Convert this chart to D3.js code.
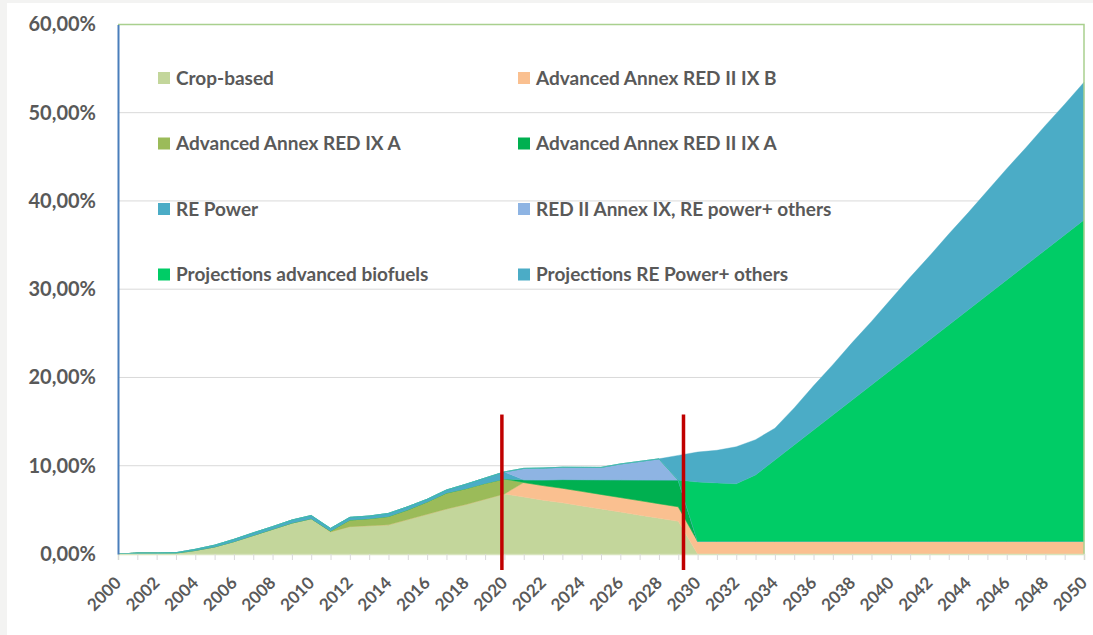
<!DOCTYPE html>
<html lang="en">
<head>
<meta charset="UTF-8" />
<title>Biofuels and RE power share</title>
<script src="https://cdn.jsdelivr.net/npm/d3@7"></script>
<style>
  body { margin: 0; background: #f3f3f2; }
  svg { display: block; }
  text { font-family: Lato, "Open Sans", sans-serif; font-weight: 700; fill: #595959; }
</style>
</head>
<body>
<svg width="1093" height="635"></svg>
<script>
// categories: one point per year
var years = d3.range(2000, 2051);

// series values, share in %
var cropBased = [0, 0.1, 0.1, 0.1, 0.4, 0.8, 1.4, 2.1, 2.8, 3.5, 4.0, 2.5, 3.1, 3.2, 3.3, 3.9, 4.5, 5.1, 5.6, 6.2, 6.8,
  6.45, 6.1, 5.8, 5.45, 5.1, 4.75, 4.4, 4.05, 3.7,
  0, 0, 0, 0, 0, 0, 0, 0, 0, 0, 0, 0, 0, 0, 0, 0, 0, 0, 0, 0, 0];
var annexIIB = [0, 0, 0, 0, 0, 0, 0, 0, 0, 0, 0, 0, 0, 0, 0, 0, 0, 0, 0, 0, 0,
  1.65, 1.65, 1.65, 1.65, 1.65, 1.65, 1.65, 1.65, 1.65,
  1.45, 1.45, 1.45, 1.45, 1.45, 1.45, 1.45, 1.45, 1.45, 1.45, 1.45, 1.45, 1.45, 1.45, 1.45, 1.45, 1.45, 1.45, 1.45, 1.45, 1.45];
var annexIXA = [0, 0, 0, 0, 0, 0, 0, 0, 0, 0, 0, 0.1, 0.75, 0.8, 0.95, 1.1, 1.4, 1.8, 1.8, 1.8, 1.7,
  0, 0, 0, 0, 0, 0, 0, 0, 0,
  0, 0, 0, 0, 0, 0, 0, 0, 0, 0, 0, 0, 0, 0, 0, 0, 0, 0, 0, 0, 0];
var annexIIA = [0, 0, 0, 0, 0, 0, 0, 0, 0, 0, 0, 0, 0, 0, 0, 0, 0, 0, 0, 0, 0,
  0.3, 0.64, 0.98, 1.32, 1.66, 2.0, 2.34, 2.68, 3.02,
  0, 0, 0, 0, 0, 0, 0, 0, 0, 0, 0, 0, 0, 0, 0, 0, 0, 0, 0, 0, 0];
var rePower = [0, 0, 0, 0.05, 0.13, 0.2, 0.26, 0.3, 0.3, 0.35, 0.36, 0.3, 0.3, 0.3, 0.35, 0.36, 0.3, 0.35, 0.5, 0.6, 0.8,
  0, 0, 0, 0, 0, 0, 0, 0, 0,
  0, 0, 0, 0, 0, 0, 0, 0, 0, 0, 0, 0, 0, 0, 0, 0, 0, 0, 0, 0, 0];
var redIIOthers = [0, 0, 0, 0, 0, 0, 0, 0, 0, 0, 0, 0, 0, 0, 0, 0, 0, 0, 0, 0, 0,
  1.3, 1.35, 1.4, 1.4, 1.4, 1.8, 2.1, 2.4, 0,
  0, 0, 0, 0, 0, 0, 0, 0, 0, 0, 0, 0, 0, 0, 0, 0, 0, 0, 0, 0, 0];
var projBiofuels = [0, 0, 0, 0, 0, 0, 0, 0, 0, 0, 0, 0, 0, 0, 0, 0, 0, 0, 0, 0, 0,
  0, 0, 0, 0, 0, 0, 0, 0, 0,
  6.7, 6.6, 6.5, 7.5, 9.2, 10.9, 12.6, 14.3, 16.0, 17.7, 19.4, 21.1, 22.8, 24.5, 26.2, 27.9, 29.6, 31.3, 33.0, 34.7, 36.4];
var projRePower = [0, 0, 0, 0, 0, 0, 0, 0, 0, 0, 0, 0, 0, 0, 0, 0, 0, 0, 0, 0, 0,
  0, 0, 0, 0, 0, 0, 0, 0, 2.8,
  3.4, 3.7, 4.2, 4.0, 3.6, 4.2, 5.0, 5.7, 6.5, 7.2, 8.0, 8.8, 9.5, 10.3, 11.0, 11.8, 12.6, 13.3, 14.1, 14.8, 15.6];

var seriesNames = ["Crop-based", "Advanced Annex RED II IX B", "Advanced Annex RED IX A",
  "Advanced Annex RED II IX A", "RE Power", "RED II Annex IX, RE power+ others",
  "Projections advanced biofuels", "Projections RE Power+ others"];
var seriesValues = [cropBased, annexIIB, annexIXA, annexIIA, rePower, redIIOthers, projBiofuels, projRePower];
var seriesColors = ["#c3d69b", "#fac090", "#9bbb59", "#00b050", "#4bacc6", "#8eb4e3", "#00cc66", "#4bacc6"];

var yTicks = [0, 10, 20, 30, 40, 50, 60];
var milestoneYears = [2019.87, 2029.27];

var svg = d3.select("svg"),
  margin = { top: 24.4, right: 9, bottom: 81, left: 118 },
  width = +svg.attr("width") - margin.left - margin.right,
  height = +svg.attr("height") - margin.top - margin.bottom;

// white panel over the grey page edge
svg.append("rect").attr("x", 7).attr("y", 3).attr("width", 1086).attr("height", 632).attr("fill", "#fff");

var x = d3.scaleLinear().domain([2000, 2050]).range([0, width]);
var y = d3.scaleLinear().domain([0, 60]).range([height, 0]);

var g = svg.append("g").attr("transform", "translate(" + margin.left + "," + margin.top + ")");

// horizontal gridlines
g.selectAll(".grid")
  .data(yTicks.filter(function (d) { return d > 0 && d < 60; }))
  .enter().append("line")
  .attr("x1", 0).attr("x2", width)
  .attr("y1", function (d) { return y(d); })
  .attr("y2", function (d) { return y(d); })
  .attr("stroke", "#d9d9d9").attr("stroke-width", 1);

var rows = years.map(function (yr, i) {
  var r = { year: yr };
  seriesNames.forEach(function (n, k) { r[n] = seriesValues[k][i]; });
  return r;
});

var stacked = d3.stack().keys(seriesNames)(rows);

var area = d3.area()
  .x(function (d) { return x(d.data.year); })
  .y0(function (d) { return y(d[0]); })
  .y1(function (d) { return y(d[1]); });

g.selectAll(".layer")
  .data(stacked)
  .enter().append("path")
  .attr("class", "layer")
  .attr("d", area)
  .attr("fill", function (d, i) { return seriesColors[i]; })
  .attr("stroke", function (d, i) { return seriesColors[i]; })
  .attr("stroke-width", 0.4);

// plot border top / right
g.append("path")
  .attr("d", "M0,0H" + width + "V" + height)
  .attr("fill", "none").attr("stroke", "#a9d08e").attr("stroke-width", 1.5);

// x axis: tick at every year, label every second year
var xAxis = g.append("g")
  .attr("transform", "translate(0," + height + ")")
  .call(d3.axisBottom(x).tickValues(years).tickSize(6)
    .tickFormat(function (d) { return d % 2 === 0 ? d : ""; }));
xAxis.select(".domain").attr("stroke", "#d7e4bd").attr("stroke-width", 1.5);
xAxis.selectAll(".tick line").attr("stroke", "#d9d9d9");
xAxis.selectAll("text")
  .attr("x", 0).attr("y", 0).attr("dy", 0)
  .attr("text-anchor", "end")
  .attr("transform", "translate(3.7,30) rotate(-45)")
  .style("font-size", "17px");

// y axis
var yAxis = g.append("g")
  .call(d3.axisLeft(y).tickValues(yTicks).tickSize(0).tickPadding(22)
    .tickFormat(function (d) { return d.toFixed(2).replace(".", ",") + "%"; }));
yAxis.select(".domain").attr("stroke", "#4a7ebb").attr("stroke-width", 2);
yAxis.selectAll("text").style("font-size", "20px");

// milestone markers
g.selectAll(".marker")
  .data(milestoneYears)
  .enter().append("line")
  .attr("x1", function (d) { return x(d); })
  .attr("x2", function (d) { return x(d); })
  .attr("y1", y(15.8))
  .attr("y2", height + 16)
  .attr("stroke", "#c00000").attr("stroke-width", 3.5);

// legend, two columns
var legend = svg.append("g").selectAll(".item")
  .data(seriesNames)
  .enter().append("g")
  .attr("transform", function (d, i) {
    return "translate(" + (158 + (i % 2) * 360) + "," + (78 + Math.floor(i / 2) * 65.5) + ")";
  });
legend.append("rect")
  .attr("x", 0).attr("y", -6).attr("width", 12).attr("height", 12)
  .attr("fill", function (d, i) { return seriesColors[i]; });
legend.append("text")
  .attr("x", 18).attr("dy", "0.36em")
  .style("font-size", "19px")
  .text(function (d) { return d; });
</script>
</body>
</html>
